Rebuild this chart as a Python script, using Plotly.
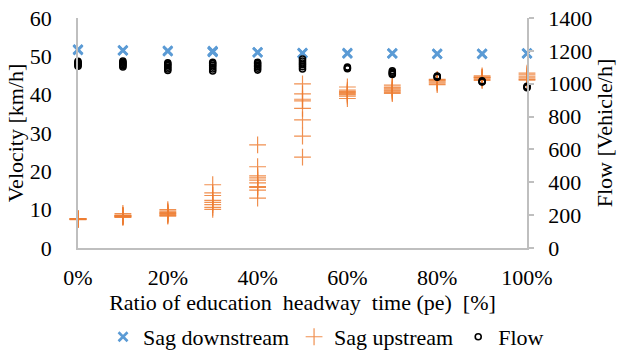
import plotly.graph_objects as go

# Ratio of education headway time (pe)
ratios = [0.0, 0.1, 0.2, 0.3, 0.4, 0.5, 0.6, 0.7, 0.8, 0.9, 1.0]

# Velocity at the sag downstream detector [km/h], several runs per ratio
sag_downstream = [
    [51.8, 51.6],
    [51.6, 51.5],
    [51.5, 51.3],
    [51.4, 51.1, 51.2],
    [51.1, 51.0],
    [50.9, 50.8],
    [50.9, 50.7],
    [50.8, 50.7],
    [50.7, 50.6],
    [50.7, 50.6],
    [50.8, 50.7],
]

# Velocity at the sag upstream detector [km/h]
sag_upstream = [
    [7.4, 7.5, 7.6, 7.7, 7.5, 7.6],
    [8.0, 8.2, 8.3, 8.5, 8.6, 9.0, 8.1, 8.4],
    [8.3, 8.7, 9.0, 9.3, 9.6, 8.5, 9.1, 10.0],
    [16.5, 14.4, 13.7, 11.9, 11.3, 10.6, 10.1, 12.4],
    [26.9, 21.2, 18.8, 18.3, 17.7, 17.0, 16.0, 15.8, 15.1, 13.0],
    [42.8, 40.2, 38.8, 38.4, 36.4, 33.4, 29.2, 23.7],
    [42.0, 41.2, 40.6, 40.3, 40.0, 39.6, 39.0, 40.8],
    [42.5, 41.8, 41.2, 40.9, 40.6, 41.5, 40.3, 42.0],
    [44.0, 43.6, 43.3, 43.0, 42.6, 43.8],
    [44.9, 44.6, 44.3, 44.0, 43.7, 44.5],
    [45.6, 45.2, 44.8, 44.4, 44.0, 43.8],
]

# Flow [Vehicle/h]
flow = [
    [1136, 1130, 1124, 1118, 1112, 1106],
    [1138, 1131, 1124, 1117, 1110, 1102],
    [1127, 1119, 1110, 1100, 1090, 1080],
    [1131, 1122, 1112, 1101, 1090, 1077],
    [1131, 1122, 1113, 1104, 1094, 1083],
    [1150, 1138, 1126, 1115, 1103, 1090],
    [1101, 1096, 1091],
    [1078, 1070, 1062, 1056],
    [1047, 1043, 1040],
    [1017, 1013, 1010],
    [984, 980, 976],
]

velocity_ticks = [0, 10, 20, 30, 40, 50, 60]
flow_ticks = [0, 200, 400, 600, 800, 1000, 1200, 1400]
ratio_ticks = [0.0, 0.2, 0.4, 0.6, 0.8, 1.0]


def flatten(groups):
    xs, ys = [], []
    for r, vals in zip(ratios, groups):
        for v in vals:
            xs.append(r)
            ys.append(v)
    return xs, ys


FONT = "Liberation Serif"
FS = 22
AXIS_GRAY = "#BFBFBF"

fig = go.Figure()

x_dn, y_dn = flatten(sag_downstream)
fig.add_trace(go.Scatter(
    x=x_dn, y=y_dn, mode="markers", name="Sag downstream",
    marker=dict(symbol="x-thin", size=9, color="#5B9BD5",
                line=dict(width=2.6, color="#5B9BD5")),
    cliponaxis=False,
))

x_up, y_up = flatten(sag_upstream)
fig.add_trace(go.Scatter(
    x=x_up, y=y_up, mode="markers", name="Sag upstream",
    marker=dict(symbol="cross-thin", size=12, color="rgba(237,125,49,0.85)",
                line=dict(width=1.2, color="rgba(237,125,49,0.85)")),
    cliponaxis=False,
))

x_fl, y_fl = flatten(flow)
fig.add_trace(go.Scatter(
    x=x_fl, y=y_fl, mode="markers", name="Flow", yaxis="y2",
    marker=dict(symbol="circle-open", size=6, color="black",
                line=dict(width=1.6, color="black")),
    cliponaxis=False,
))

fig.update_layout(
    width=621, height=351,
    margin=dict(l=78, r=94, t=18, b=103, autoexpand=False),
    paper_bgcolor="white", plot_bgcolor="white",
    font=dict(family=FONT, size=FS, color="#000000"),
    showlegend=True,
    legend=dict(orientation="h", xref="container", yref="container",
                x=0.525, xanchor="center", y=0.04, yanchor="middle",
                font=dict(family=FONT, size=FS), itemwidth=30, tracegroupgap=0,
                bgcolor="rgba(0,0,0,0)"),
    xaxis=dict(
        range=[0, 1], tickvals=ratio_ticks, tickformat=".0%",
        showgrid=False, zeroline=False, automargin=False,
        showline=True, linecolor=AXIS_GRAY, linewidth=1.5,
        ticks="", ticklabelstandoff=9,
        title=dict(text="Ratio of education\u00a0 headway\u00a0 time (pe)\u00a0 [%]",
                   standoff=3, font=dict(family=FONT, size=FS)),
    ),
    yaxis=dict(
        range=[0, 60], tickvals=velocity_ticks,
        showgrid=False, zeroline=False, automargin=False,
        showline=True, linecolor=AXIS_GRAY, linewidth=1.5,
        ticks="", ticklabelstandoff=20,
        title=dict(text="Velocity [km/h]", standoff=0, font=dict(family=FONT, size=FS)),
    ),
    yaxis2=dict(
        range=[0, 1400], tickvals=flow_ticks, overlaying="y", side="right",
        showgrid=False, zeroline=False, automargin=False,
        showline=True, linecolor=AXIS_GRAY, linewidth=1.5,
        ticks="outside", ticklen=5, tickcolor=AXIS_GRAY, tickwidth=1.5,
        ticklabelstandoff=10,
        title=dict(text="Flow [Vehicle/h]", standoff=0, font=dict(family=FONT, size=FS)),
    ),
)

fig.write_html("out.html")
